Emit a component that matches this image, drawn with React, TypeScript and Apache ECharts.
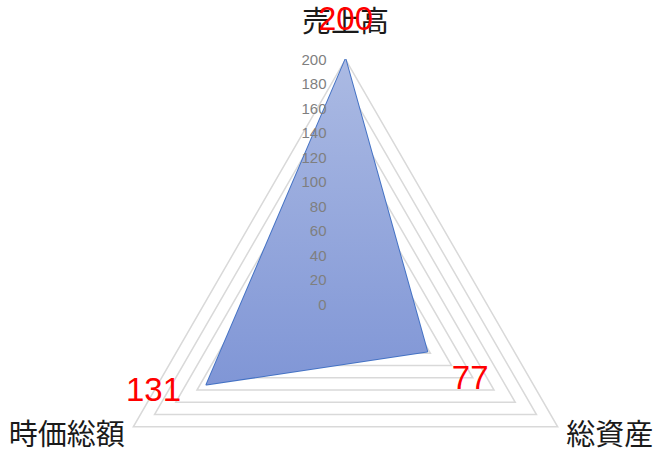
import React, { useEffect, useRef } from 'react';
import * as echarts from 'echarts';

// 指標（ECharts は上から反時計回りに並べる）
const indicatorNames = ['売上高', '時価総額', '総資産'];
const indicatorMax = 200;
const values = [200, 131, 77];
// データラベルのずらし量（px）
const labelOffsets: [number, number][] = [
  [0, -41],
  [-53, 5],
  [43, 26],
];

const numFont = '"Liberation Sans", Arial, sans-serif';
const jpFont = '"Noto Sans CJK JP", sans-serif';

const radarBase = {
  center: [345.5, 304.3],
  radius: 245,
  startAngle: 90,
  shape: 'polygon' as const,
  splitNumber: 10,
  axisLine: { show: false },
  axisTick: { show: false },
  splitArea: { show: false },
};

const App: React.FC = () => {
  const chartRef = useRef<HTMLDivElement>(null);

  useEffect(() => {
    if (!chartRef.current) return;
    const chart = echarts.init(chartRef.current, null, { renderer: 'svg' });

    const options: echarts.EChartsOption = {
      animation: false,
      radar: [
        {
          ...radarBase,
          nameGap: 10,
          axisName: {
            color: '#1a1a1a',
            fontSize: 29,
            fontFamily: jpFont,
            formatter: (name?: string) => (name === indicatorNames[0] ? `{t|${name}}` : name || ''),
            rich: {
              t: {
                color: '#1a1a1a',
                fontSize: 29,
                fontFamily: jpFont,
                padding: [0, 0, 16, 0],
              },
            },
          },
          axisLabel: { show: false },
          splitLine: {
            lineStyle: { color: '#d9d9d9', width: 1.5 },
          },
          indicator: indicatorNames.map((name) => ({ name, min: 0, max: indicatorMax })),
        },
        {
          // 目盛ラベルを塗りの上に出すための重ね用
          ...radarBase,
          z: 10,
          axisName: { show: false },
          splitLine: { show: false },
          axisLabel: { show: false },
          indicator: indicatorNames.map((name, i) => ({
            name,
            min: 0,
            max: indicatorMax,
            ...(i === 0
              ? {
                  axisLabel: {
                    show: true,
                    color: '#7f7f7f',
                    fontSize: 15,
                    fontFamily: numFont,
                    margin: 19,
                  },
                }
              : {}),
          })),
        },
      ],
      series: [
        {
          type: 'radar',
          radarIndex: 0,
          symbol: 'none',
          lineStyle: { color: '#4472c4', width: 2 },
          areaStyle: {
            opacity: 1,
            color: new echarts.graphic.LinearGradient(0, 0, 0, 1, [
              { offset: 0, color: '#abbae3' },
              { offset: 1, color: '#8096d6' },
            ]),
          },
          data: [{ value: values, name: '値' }],
        },
        {
          // 赤いデータラベル用（線や点は見せない）
          type: 'radar',
          radarIndex: 0,
          z: 12,
          symbol: 'circle',
          symbolSize: 1,
          itemStyle: { color: 'rgba(0,0,0,0)' },
          lineStyle: { width: 0, opacity: 0 },
          silent: true,
          data: values.map((_, k) => ({
            value: values,
            label: {
              show: true,
              position: 'inside',
              offset: labelOffsets[k],
              color: '#ff0000',
              fontSize: 33,
              fontFamily: numFont,
              formatter: (p: any) => {
                const d = p.dimensionIndex != null ? p.dimensionIndex : values.indexOf(p.value);
                const v = Array.isArray(p.value) ? p.value[d] : p.value;
                return d === k ? String(v) : '';
              },
            },
          })),
        },
      ],
    };

    chart.setOption(options);

    return () => {
      chart.dispose();
    };
  }, []);

  return (
    <div
      ref={chartRef}
      style={{ position: 'absolute', left: 0, top: 0, width: 664, height: 454, background: '#fff' }}
    />
  );
};

export default App;
